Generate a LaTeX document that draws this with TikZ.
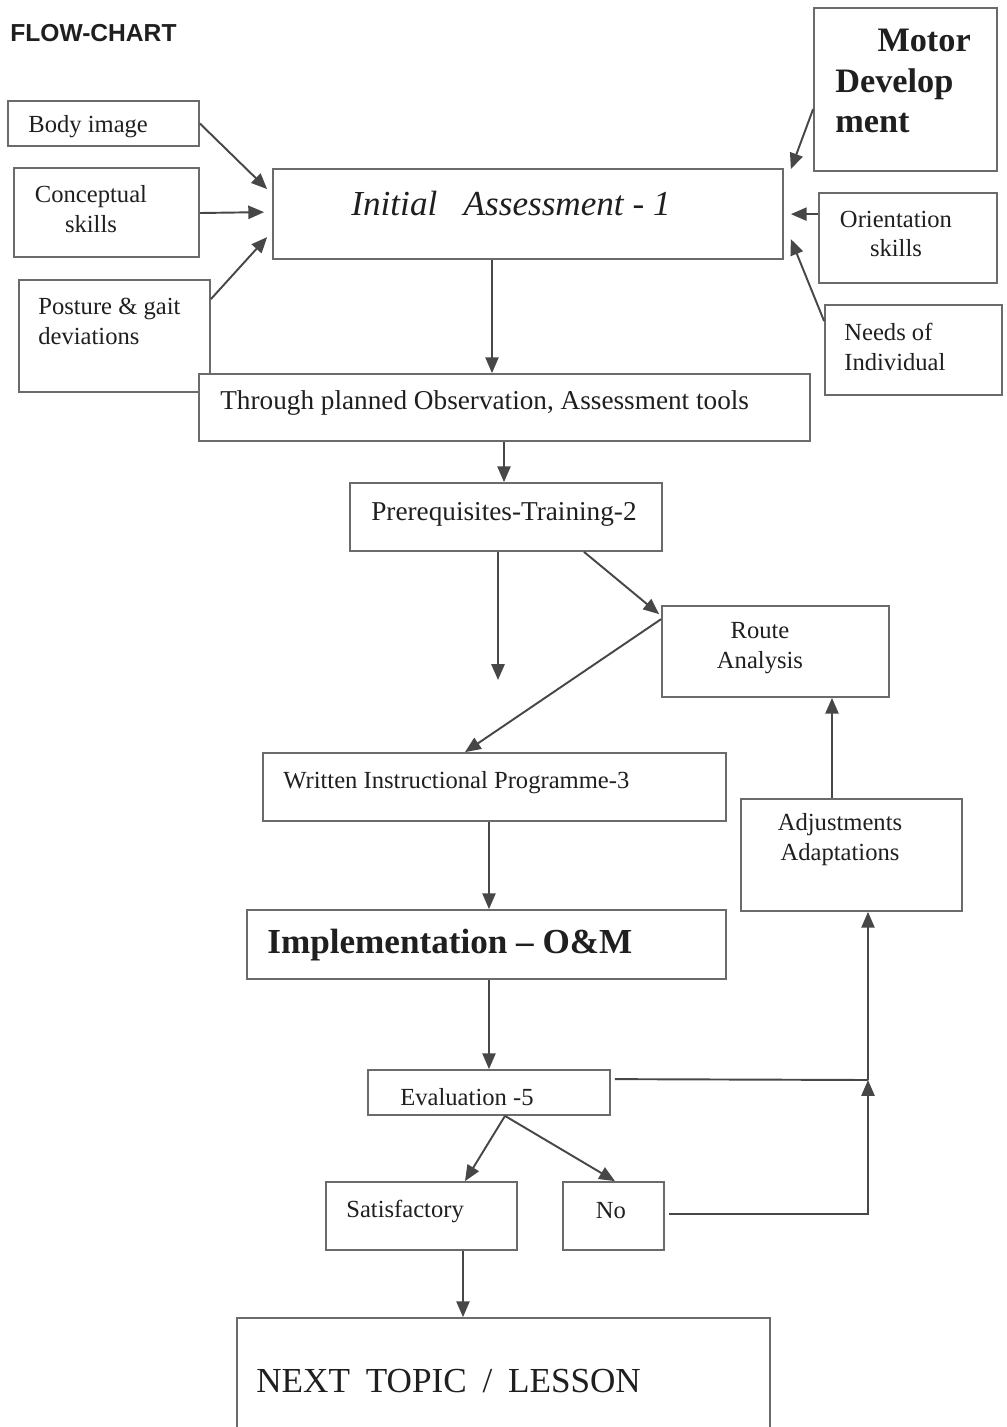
\documentclass[tikz,border=0pt]{standalone}
\usepackage{fontspec}
\setmainfont{Liberation Serif}
\setsansfont{Liberation Sans}
\usetikzlibrary{arrows.meta,fit}
\definecolor{boxgray}{gray}{0.42}
\definecolor{arrowgray}{gray}{0.28}
\definecolor{ink}{gray}{0.12}

\begin{document}
\begin{tikzpicture}[x=0.02cm,y=-0.02cm,
  box/.style={draw=boxgray,line width=1pt,inner sep=0pt,fill=white},
  txt/.style={inner sep=0pt,text=ink,font=\fontsize{14}{17}\selectfont},
  arr/.style={draw=arrowgray,line width=1.1pt,-{Triangle[length=9pt,width=7.5pt]}}]
  \useasboundingbox (0,0) rectangle (1007,1427);
  % boxes
  \node[box,fit={(8,101)(199,146)}] (bodyimg) {};
  \node[box,fit={(14,168)(199,257)}] (concept) {};
  \node[box,fit={(19,280)(210,392)}] (posture) {};
  \node[box,fit={(273,169)(783,259)}] (initial) {};
  \node[box,fit={(814,8)(997,171)}] (motor) {};
  \node[box,fit={(819,193)(997,283)}] (orient) {};
  \node[box,fit={(825,305)(1002,395)}] (needs) {};
  \node[box,fit={(199,374)(810,441)}] (through) {};
  \node[box,fit={(350,483)(662,551)}] (prereq) {};
  \node[box,fit={(662,606)(889,697)}] (route) {};
  \node[box,fit={(263,753)(726,821)}] (written) {};
  \node[box,fit={(741,799)(962,911)}] (adjust) {};
  \node[box,fit={(247,910)(726,979)}] (implem) {};
  \node[box,fit={(368,1070)(610,1115)}] (eval) {};
  \node[box,fit={(326,1182)(517,1250)}] (satis) {};
  \node[box,fit={(563,1182)(664,1250)}] (no) {};
  \node[box,fit={(237,1318)(770,1445)}] (next) {};
  % texts
  \node[txt,anchor=west,font=\fontsize{14}{17}\selectfont\sffamily\bfseries] (title) at (10,33) {FLOW-CHART};
  \node[txt,anchor=west] (bodyimg-t) at (28,127) {Body image};
  \node[txt,align=center] (concept-t) at (91,209) {Conceptual\\skills};
  \node[txt,anchor=west,align=left] (posture-t) at (38,321) {Posture \& gait\\deviations};
  \node[txt,font=\fontsize{20}{24}\selectfont\itshape] (initial-t) at (511,203) {Initial\hspace{0.5em} Assessment - 1};
  \node[txt,anchor=west,align=left,font=\fontsize{19.5}{22.8}\selectfont\bfseries] (motor-t) at (835,81) {\hspace*{24pt}Motor\\Develop\\ment};
  \node[txt,align=center] (orient-t) at (896,234) {Orientation\\skills};
  \node[txt,anchor=west,align=left] (needs-t) at (844,347) {Needs of\\Individual};
  \node[txt,anchor=west,font=\fontsize{15.5}{18}\selectfont] (through-t) at (220,403) {Through planned Observation, Assessment tools};
  \node[txt,anchor=west,font=\fontsize{15.5}{18}\selectfont] (prereq-t) at (371,514) {Prerequisites-Training-2};
  \node[txt,align=center] (route-t) at (760,648) {Route\\Analysis};
  \node[txt,anchor=west] (written-t) at (283,783) {Written Instructional Programme-3};
  \node[txt,align=center] (adjust-t) at (840,840) {Adjustments\\Adaptations};
  \node[txt,anchor=west,font=\fontsize{20}{24}\selectfont\bfseries] (implem-t) at (267,945) {Implementation -- O\&M};
  \node[txt,anchor=west] (eval-t) at (400,1097) {Evaluation -5};
  \node[txt,anchor=west] (satis-t) at (346,1211) {Satisfactory};
  \node[txt] (no-t) at (611,1211) {No};
  \node[txt,anchor=west,font=\fontsize{20}{24}\selectfont] (next-t) at (256,1381) {NEXT\hspace{0.45em}TOPIC\hspace{0.45em}/\hspace{0.45em}LESSON};
  % connectors
  \coordinate (loose) at (498,680);
  \coordinate (junc) at (868,1080);
  \draw[arr] (bodyimg.east) -- ([shift={(-5,21)}]initial.north west);
  \draw[arr] (concept.east |- 0,213) -- ([shift={(-8,44)}]initial.north west);
  \draw[arr] ([shift={(0,20)}]posture.north east) -- ([shift={(-5,69)}]initial.north west);
  \draw[arr] ([shift={(0,102)}]motor.north west) -- ([shift={(7,1)}]initial.north east);
  \draw[arr] ([shift={(0,22)}]orient.north west) -- ([shift={(7,46)}]initial.north east);
  \draw[arr] ([shift={(0,17)}]needs.north west) -- ([shift={(7,71)}]initial.north east);
  \draw[arr] (initial.south -| 492,0) -- (through.north -| 492,0);
  \draw[arr] (through.south -| 504,0) -- (prereq.north -| 504,0);
  \draw[arr] (prereq.south -| 498,0) -- (loose);
  \draw[arr] (prereq.south -| 584,0) -- ([shift={(-2,9)}]route.north west);
  \draw[arr] ([shift={(0,14)}]route.north west) -- (written.north -| 465,0);
  \draw[arr] (adjust.north -| 832,0) -- (route.south -| 832,0);
  \draw[arr] (written.south -| 489,0) -- (implem.north -| 489,0);
  \draw[arr] (implem.south -| 489,0) -- (eval.north -| 489,0);
  \draw[arr] (eval.south -| 505,0) -- (satis.north -| 465,0);
  \draw[arr] (eval.south -| 505,0) -- (no.north -| 615,0);
  \draw[arr] (satis.south -| 463,0) -- (next.north -| 463,0);
  \draw[arr,-] ([shift={(4,10)}]eval.north east) -- (junc);
  \draw[arr] ([shift={(4,33)}]no.north east) -| (junc);
  \draw[arr] (junc) -- (adjust.south -| junc);
\end{tikzpicture}
\end{document}
